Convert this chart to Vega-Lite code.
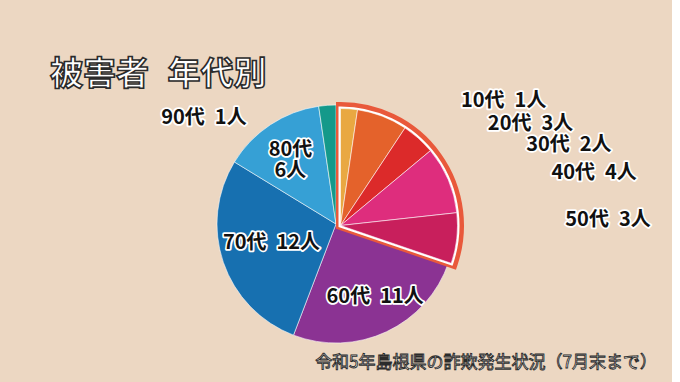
{
  "$schema": "https://vega.github.io/schema/vega-lite/v6.json",
  "background": "#ecd7c2",
  "padding": {"left": 0, "top": 58, "right": 0, "bottom": 12},
  "title": {"text": "被害者\u2002\u200a年代別", "anchor": "start", "frame": "group", "dx": 50, "offset": -3, "fontSize": 33, "font": "Noto Sans CJK JP", "fontWeight": "bold", "color": "#ffffff", "style": "head-title"},
  "config": {
    "view": {"stroke": null},
    "style": {
      "head-title": {"stroke": "#2b2b2b", "strokeWidth": 1.6},
      "foot-title": {"stroke": "#2b2b2b", "strokeWidth": 0.9},
      "halo": {"color": "#ffffff", "stroke": "#ffffff", "strokeWidth": 3.5, "strokeJoin": "round"}
    }
  },
  "datasets": {
    "ages": [
      {"age": "10代", "n": 1, "o": 1, "label": "10代\u20021人"},
      {"age": "20代", "n": 3, "o": 2, "label": "20代\u20023人"},
      {"age": "30代", "n": 2, "o": 3, "label": "30代\u20022人"},
      {"age": "40代", "n": 4, "o": 4, "label": "40代\u20024人"},
      {"age": "50代", "n": 3, "o": 5, "label": "50代\u20023人"},
      {"age": "60代", "n": 11, "o": 6, "label": "60代\u200211人"},
      {"age": "70代", "n": 12, "o": 7, "label": "70代\u200212人"},
      {"age": "80代", "n": 6, "o": 8, "label": "80代\n6人"},
      {"age": "90代", "n": 1, "o": 9, "label": "90代\u20021人"}
    ]
  },
  "vconcat": [
    {
      "width": 672,
      "height": 268,
      "title": {"text": "令和5年島根県の詐欺発生状況（7月末まで）", "orient": "bottom", "anchor": "end", "frame": "group", "dx": -15, "dy": -3, "offset": 0, "fontSize": 17, "font": "Noto Sans CJK JP", "fontWeight": "normal", "color": "#ffffff", "style": "foot-title"},
      "data": {"name": "ages"},
      "transform": [
        {"stack": "n", "groupby": [], "sort": [{"field": "o", "order": "ascending"}], "as": ["t0", "t1"]}
      ],
      "layer": [
        {
          "transform": [{"filter": "datum.o > 5"}],
          "mark": {"type": "arc", "outerRadius": 119, "stroke": "#ffffff", "strokeOpacity": 0.7, "strokeWidth": 0.8},
          "encoding": {
            "theta": {"field": "t0", "type": "quantitative", "scale": {"domain": [0, 43]}, "stack": null},
            "theta2": {"field": "t1"},
            "color": {"field": "age", "type": "nominal", "legend": null, "scale": {"domain": ["10代", "20代", "30代", "40代", "50代", "60代", "70代", "80代", "90代"], "range": ["#e9a842", "#e4622b", "#dc2a2a", "#de2d7d", "#c81f5c", "#8b3393", "#1770b0", "#36a0d5", "#14998a"]}}
          }
        },
        {
          "transform": [{"filter": "datum.o <= 5"}, {"aggregate": [{"op": "min", "field": "t0", "as": "a0"}, {"op": "max", "field": "t1", "as": "a1"}]}],
          "mark": {"type": "arc", "outerRadius": 119, "fill": "#e9593b", "stroke": "#e9593b", "strokeWidth": 9, "strokeJoin": "miter", "xOffset": 4.5, "yOffset": 1.5},
          "encoding": {
            "theta": {"field": "a0", "type": "quantitative", "scale": {"domain": [0, 43]}, "stack": null},
            "theta2": {"field": "a1"}
          }
        },
        {
          "transform": [{"filter": "datum.o <= 5"}, {"aggregate": [{"op": "min", "field": "t0", "as": "a0"}, {"op": "max", "field": "t1", "as": "a1"}]}],
          "mark": {"type": "arc", "outerRadius": 117, "fill": "#ffffff", "stroke": "#ffffff", "strokeWidth": 4, "strokeJoin": "miter", "xOffset": 4.5, "yOffset": 1.5},
          "encoding": {
            "theta": {"field": "a0", "type": "quantitative", "scale": {"domain": [0, 43]}, "stack": null},
            "theta2": {"field": "a1"}
          }
        },
        {
          "transform": [{"filter": "datum.o <= 5"}],
          "mark": {"type": "arc", "outerRadius": 117, "stroke": "#ffffff", "strokeOpacity": 0.7, "strokeWidth": 0.8, "xOffset": 4.5, "yOffset": 1.5},
          "encoding": {
            "theta": {"field": "t0", "type": "quantitative", "scale": {"domain": [0, 43]}, "stack": null},
            "theta2": {"field": "t1"},
            "color": {"field": "age", "type": "nominal", "legend": null}
          }
        },
        {
          "transform": [{"filter": "datum.o == 1"}],
          "encoding": {"theta": {"field": "t0", "type": "quantitative", "scale": {"domain": [0, 43]}, "stack": null}, "text": {"field": "label"}},
          "layer": [
            {"mark": {"type": "text", "style": "halo", "radius": 119, "dx": 125, "dy": -4, "align": "left", "baseline": "middle", "font": "Noto Sans CJK JP", "fontSize": 20, "fontWeight": "bold"}},
            {"mark": {"type": "text", "radius": 119, "dx": 125, "dy": -4, "align": "left", "baseline": "middle", "font": "Noto Sans CJK JP", "fontSize": 20, "fontWeight": "bold", "color": "#111111"}}
          ]
        },
        {
          "transform": [{"filter": "datum.o == 2"}],
          "encoding": {"theta": {"field": "t0", "type": "quantitative", "scale": {"domain": [0, 43]}, "stack": null}, "text": {"field": "label"}},
          "layer": [
            {"mark": {"type": "text", "style": "halo", "radius": 119, "dx": 134.5, "dy": 17.5, "align": "left", "baseline": "middle", "font": "Noto Sans CJK JP", "fontSize": 20, "fontWeight": "bold"}},
            {"mark": {"type": "text", "radius": 119, "dx": 134.5, "dy": 17.5, "align": "left", "baseline": "middle", "font": "Noto Sans CJK JP", "fontSize": 20, "fontWeight": "bold", "color": "#111111"}}
          ]
        },
        {
          "transform": [{"filter": "datum.o == 3"}],
          "encoding": {"theta": {"field": "t0", "type": "quantitative", "scale": {"domain": [0, 43]}, "stack": null}, "text": {"field": "label"}},
          "layer": [
            {"mark": {"type": "text", "style": "halo", "radius": 119, "dx": 124.5, "dy": 20, "align": "left", "baseline": "middle", "font": "Noto Sans CJK JP", "fontSize": 20, "fontWeight": "bold"}},
            {"mark": {"type": "text", "radius": 119, "dx": 124.5, "dy": 20, "align": "left", "baseline": "middle", "font": "Noto Sans CJK JP", "fontSize": 20, "fontWeight": "bold", "color": "#111111"}}
          ]
        },
        {
          "transform": [{"filter": "datum.o == 4"}],
          "encoding": {"theta": {"field": "t0", "type": "quantitative", "scale": {"domain": [0, 43]}, "stack": null}, "text": {"field": "label"}},
          "layer": [
            {"mark": {"type": "text", "style": "halo", "radius": 119, "dx": 124, "dy": 25, "align": "left", "baseline": "middle", "font": "Noto Sans CJK JP", "fontSize": 20, "fontWeight": "bold"}},
            {"mark": {"type": "text", "radius": 119, "dx": 124, "dy": 25, "align": "left", "baseline": "middle", "font": "Noto Sans CJK JP", "fontSize": 20, "fontWeight": "bold", "color": "#111111"}}
          ]
        },
        {
          "transform": [{"filter": "datum.o == 5"}],
          "encoding": {"theta": {"field": "t0", "type": "quantitative", "scale": {"domain": [0, 43]}, "stack": null}, "text": {"field": "label"}},
          "layer": [
            {"mark": {"type": "text", "style": "halo", "radius": 119, "dx": 111, "dy": 9, "align": "left", "baseline": "middle", "font": "Noto Sans CJK JP", "fontSize": 20, "fontWeight": "bold"}},
            {"mark": {"type": "text", "radius": 119, "dx": 111, "dy": 9, "align": "left", "baseline": "middle", "font": "Noto Sans CJK JP", "fontSize": 20, "fontWeight": "bold", "color": "#111111"}}
          ]
        },
        {
          "transform": [{"filter": "datum.o == 6"}],
          "encoding": {"theta": {"field": "t0", "type": "quantitative", "scale": {"domain": [0, 43]}, "stack": null}, "text": {"field": "label"}},
          "layer": [
            {"mark": {"type": "text", "style": "halo", "radius": 119, "dx": -73.5, "dy": 35, "align": "center", "baseline": "middle", "font": "Noto Sans CJK JP", "fontSize": 20, "fontWeight": "bold"}},
            {"mark": {"type": "text", "radius": 119, "dx": -73.5, "dy": 35, "align": "center", "baseline": "middle", "font": "Noto Sans CJK JP", "fontSize": 20, "fontWeight": "bold", "color": "#111111"}}
          ]
        },
        {
          "transform": [{"filter": "datum.o == 7"}],
          "encoding": {"theta": {"field": "t0", "type": "quantitative", "scale": {"domain": [0, 43]}, "stack": null}, "text": {"field": "label"}},
          "layer": [
            {"mark": {"type": "text", "style": "halo", "radius": 119, "dx": -22, "dy": -92.5, "align": "center", "baseline": "middle", "font": "Noto Sans CJK JP", "fontSize": 20, "fontWeight": "bold"}},
            {"mark": {"type": "text", "radius": 119, "dx": -22, "dy": -92.5, "align": "center", "baseline": "middle", "font": "Noto Sans CJK JP", "fontSize": 20, "fontWeight": "bold", "color": "#111111"}}
          ]
        },
        {
          "transform": [{"filter": "datum.o == 8"}],
          "encoding": {"theta": {"field": "t0", "type": "quantitative", "scale": {"domain": [0, 43]}, "stack": null}, "text": {"field": "label"}},
          "layer": [
            {"mark": {"type": "text", "style": "halo", "radius": 119, "dx": 56, "dy": -12.5, "align": "center", "baseline": "middle", "lineBreak": "\n", "lineHeight": 21, "font": "Noto Sans CJK JP", "fontSize": 20, "fontWeight": "bold"}},
            {"mark": {"type": "text", "radius": 119, "dx": 56, "dy": -12.5, "align": "center", "baseline": "middle", "lineBreak": "\n", "lineHeight": 21, "font": "Noto Sans CJK JP", "fontSize": 20, "fontWeight": "bold", "color": "#111111"}}
          ]
        },
        {
          "transform": [{"filter": "datum.o == 9"}],
          "encoding": {"theta": {"field": "t0", "type": "quantitative", "scale": {"domain": [0, 43]}, "stack": null}, "text": {"field": "label"}},
          "layer": [
            {"mark": {"type": "text", "style": "halo", "radius": 119, "dx": -72, "dy": 11.5, "align": "right", "baseline": "middle", "font": "Noto Sans CJK JP", "fontSize": 20, "fontWeight": "bold"}},
            {"mark": {"type": "text", "radius": 119, "dx": -72, "dy": 11.5, "align": "right", "baseline": "middle", "font": "Noto Sans CJK JP", "fontSize": 20, "fontWeight": "bold", "color": "#111111"}}
          ]
        }
      ]
    }
  ]
}
